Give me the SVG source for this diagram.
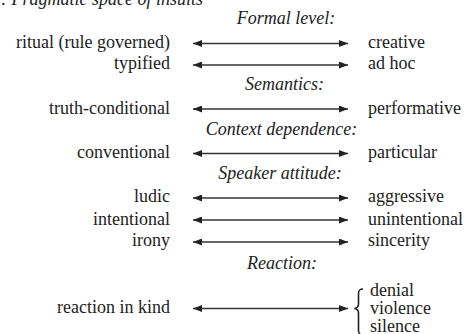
<svg xmlns="http://www.w3.org/2000/svg" width="469" height="334" viewBox="0 0 469 334">
<defs>
  <marker id="ah" markerUnits="userSpaceOnUse" markerWidth="9" markerHeight="7" refX="9" refY="3.5" orient="auto-start-reverse">
    <path d="M0,0 L9,3.5 L0,7 z" fill="#222"/>
  </marker>
</defs>
<rect width="469" height="334" fill="#fff"/>
<text x="1" y="5" font-size="18" font-family="Liberation Serif" font-style="italic" fill="#222">: Pragmatic space of insults</text>

<g id="headings">
  <text x="286" y="24" font-size="18" font-family="Liberation Serif" font-style="italic" text-anchor="middle" fill="#222">Formal level:</text>
  <text x="284.5" y="90" font-size="18" font-family="Liberation Serif" font-style="italic" text-anchor="middle" fill="#222">Semantics:</text>
  <text x="281.5" y="135" font-size="18" font-family="Liberation Serif" font-style="italic" text-anchor="middle" fill="#222">Context dependence:</text>
  <text x="280" y="179" font-size="18" font-family="Liberation Serif" font-style="italic" text-anchor="middle" fill="#222">Speaker attitude:</text>
  <text x="282" y="269" font-size="18" font-family="Liberation Serif" font-style="italic" text-anchor="middle" fill="#222">Reaction:</text>
</g>

<g id="left-nodes">
  <text x="170" y="48" font-size="18" font-family="Liberation Serif" text-anchor="end" fill="#222">ritual (rule governed)</text>
  <text x="170" y="69" font-size="18" font-family="Liberation Serif" text-anchor="end" fill="#222">typified</text>
  <text x="170" y="113.5" font-size="18" font-family="Liberation Serif" text-anchor="end" fill="#222">truth-conditional</text>
  <text x="170" y="158" font-size="18" font-family="Liberation Serif" text-anchor="end" fill="#222">conventional</text>
  <text x="170" y="202" font-size="18" font-family="Liberation Serif" text-anchor="end" fill="#222">ludic</text>
  <text x="170" y="224.5" font-size="18" font-family="Liberation Serif" text-anchor="end" fill="#222">intentional</text>
  <text x="170" y="246" font-size="18" font-family="Liberation Serif" text-anchor="end" fill="#222">irony</text>
  <text x="170" y="312.5" font-size="18" font-family="Liberation Serif" text-anchor="end" fill="#222">reaction in kind</text>
</g>

<g id="right-nodes">
  <text x="368" y="48" font-size="18" font-family="Liberation Serif" fill="#222">creative</text>
  <text x="368" y="69" font-size="18" font-family="Liberation Serif" fill="#222">ad hoc</text>
  <text x="368" y="113.5" font-size="18" font-family="Liberation Serif" fill="#222">performative</text>
  <text x="368" y="158" font-size="18" font-family="Liberation Serif" fill="#222">particular</text>
  <text x="368" y="202" font-size="18" font-family="Liberation Serif" fill="#222">aggressive</text>
  <text x="368" y="224.5" font-size="18" font-family="Liberation Serif" fill="#222">unintentional</text>
  <text x="368" y="246" font-size="18" font-family="Liberation Serif" fill="#222">sincerity</text>
  <g id="reactions">
    <text x="370" y="296" font-size="18" font-family="Liberation Serif" fill="#222">denial</text>
    <text x="370" y="314" font-size="18" font-family="Liberation Serif" fill="#222">violence</text>
    <text x="370" y="332" font-size="18" font-family="Liberation Serif" fill="#222">silence</text>
  </g>
</g>

<g id="connectors" stroke="#333" stroke-width="1.3" fill="none">
  <line x1="193" y1="43.5" x2="348" y2="43.5" marker-start="url(#ah)" marker-end="url(#ah)"/>
  <line x1="193" y1="65" x2="348" y2="65" marker-start="url(#ah)" marker-end="url(#ah)"/>
  <line x1="193" y1="109" x2="348" y2="109" marker-start="url(#ah)" marker-end="url(#ah)"/>
  <line x1="193" y1="153.5" x2="348" y2="153.5" marker-start="url(#ah)" marker-end="url(#ah)"/>
  <line x1="193" y1="198" x2="348" y2="198" marker-start="url(#ah)" marker-end="url(#ah)"/>
  <line x1="193" y1="220" x2="348" y2="220" marker-start="url(#ah)" marker-end="url(#ah)"/>
  <line x1="193" y1="242" x2="348" y2="242" marker-start="url(#ah)" marker-end="url(#ah)"/>
  <line x1="193" y1="308.5" x2="348" y2="308.5" marker-start="url(#ah)" marker-end="url(#ah)"/>
  <path d="M363,289 C359,289 358.5,291 358.5,294 L358.5,304 C358.5,306.5 357,308 354.5,308.5 C357,309 358.5,310.5 358.5,313 L358.5,330 C358.5,333 359,335 363,335" stroke="#222" stroke-width="1.6"/>
</g>
</svg>
